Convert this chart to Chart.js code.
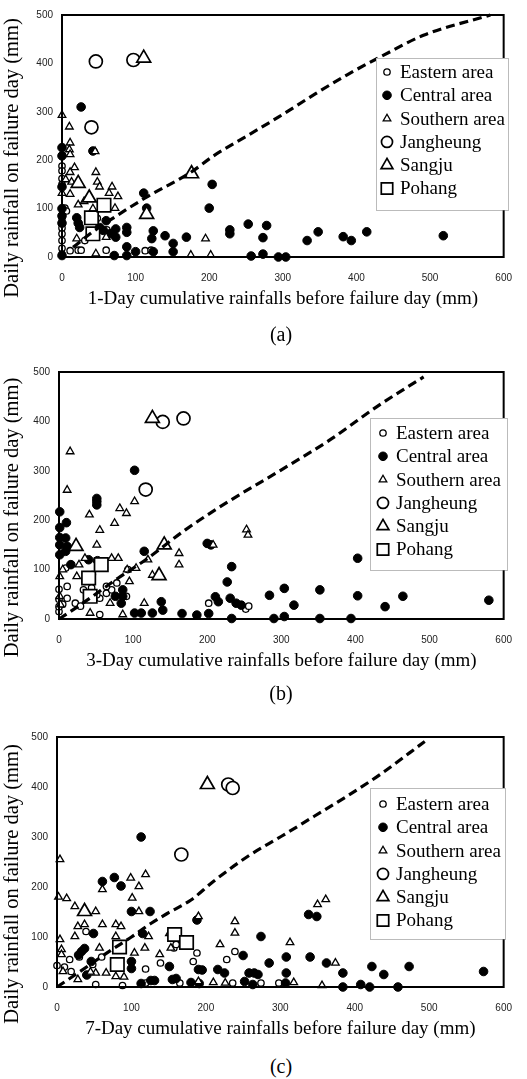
<!DOCTYPE html>
<html>
<head>
<meta charset="utf-8">
<script src="https://cdn.jsdelivr.net/npm/chart.js"></script>
<style>
  html, body { margin: 0; padding: 0; background: #fff; }
  body { width: 527px; height: 1079px; position: relative; overflow: hidden; }
  .panel { position: absolute; left: 0; width: 527px; }
  .panel canvas { display: block; }
  .caption { position: absolute; left: 251px; width: 60px; height: 24px; line-height: 24px;
             text-align: center; font: 20px "Liberation Serif", "Times New Roman", serif; color: #000; }
</style>
</head>
<body>
<div class="panel" style="top:0px"><canvas id="chartA" width="527" height="330"></canvas></div>
<div class="panel" style="top:355px"><canvas id="chartB" width="527" height="330"></canvas></div>
<div class="panel" style="top:720px"><canvas id="chartC" width="527" height="330"></canvas></div>
<div class="caption" style="top:323px">(a)</div>
<div class="caption" style="top:682px">(b)</div>
<div class="caption" style="top:1055px">(c)</div>

<script>
const seriesNames = ["Eastern area", "Central area", "Southern area", "Jangheung", "Sangju", "Pohang"];
const yTitle = "Daily rainfall on failure day (mm)";
const xTitles = [
  "1-Day cumulative rainfalls before failure day (mm)",
  "3-Day cumulative rainfalls before failure day (mm)",
  "7-Day cumulative rainfalls before failure day (mm)",
];
const xTicks = [0, 100, 200, 300, 400, 500, 600];
const yTicks = [0, 100, 200, 300, 400, 500];

// (a) 1-day cumulative rainfall vs daily rainfall, [x, y] in mm
const eastern1 = [[0,188],[0,178],[0,162],[0,150],[4,101],[6,95],[0,80],[0,70],[0,60],[0,48],[0,34],[0,18],[0,6],
  [11,13],[22,14],[26,14],[31,34],[60,14],[61,56],[113,13],[121,14],[48,80]];
const central1 = [[26,310],[0,226],[0,209],[0,145],[42,219],[204,150],[200,101],[111,132],[115,101],[0,100],[0,85],
  [0,70],[20,81],[24,61],[22,70],[51,61],[60,75],[56,55],[73,58],[88,61],[88,51],[73,41],[124,54],[122,38],[140,44],
  [151,28],[169,41],[228,56],[228,48],[253,68],[278,65],[273,40],[333,34],[348,52],[382,42],[393,34],[414,52],[518,44],
  [0,3],[71,3],[88,3],[100,11],[88,21],[124,11],[151,11],[257,2],[273,6],[294,0],[304,0],[40,50],[65,48]];
const southern1 = [[0,293],[10,269],[11,236],[10,222],[11,212],[17,185],[11,175],[13,155],[0,132],[11,130],[46,175],
  [48,155],[51,145],[64,132],[68,145],[76,125],[72,101],[22,108],[60,41],[20,38],[46,7],[175,4],[202,4],[195,38],
  [45,218],[30,115],[42,100],[5,160]];
const jangheung1 = [[46,404],[97,407],[40,268]];
const sangju1 = [[111,411],[22,152],[115,88],[176,172],[37,122]];
const pohang1 = [[40,81],[57,107],[42,48]];
const threshold1 = [[15,20],[40,50],[64,75],[113,122],[175,175],[206,209],[251,250],[295,290],[344,337],[388,377],
  [437,417],[491,458],[582,500]];

// (b) 3-day cumulative rainfall
const eastern3 = [[0,15],[0,25],[0,40],[0,60],[9,103],[11,66],[11,42],[22,32],[29,26],[35,76],[33,59],[44,63],[55,42],
  [64,52],[71,59],[64,66],[51,49],[55,9],[91,46],[93,100],[78,73],[202,32],[252,20],[256,26],[5,30],[45,90]];
const central3 = [[1,217],[1,185],[1,165],[1,150],[1,130],[10,195],[9,164],[11,147],[9,137],[51,244],[51,238],[51,231],
  [102,301],[115,137],[16,110],[40,120],[52,118],[86,59],[86,46],[84,32],[76,46],[138,35],[140,18],[102,12],[111,12],
  [126,12],[166,11],[186,8],[202,11],[200,153],[205,150],[233,106],[227,75],[211,45],[215,35],[231,42],[239,32],
  [246,28],[233,1],[284,48],[304,62],[317,28],[304,5],[290,1],[352,59],[352,1],[394,1],[403,123],[403,47],[440,25],
  [464,46],[580,38]];
const southern3 = [[15,339],[11,261],[41,211],[55,180],[51,150],[75,194],[82,224],[91,214],[102,238],[162,133],[162,110],
  [208,150],[253,181],[255,170],[1,86],[1,46],[27,110],[24,86],[35,123],[71,123],[80,123],[69,32],[95,76],[104,103],
  [120,120],[115,32],[42,12],[86,9],[2,29],[5,100],[60,110],[92,100],[126,89]];
const jangheung3 = [[140,399],[168,406],[117,262]];
const sangju3 = [[126,406],[23,147],[142,150],[135,88]];
const pohang3 = [[40,83],[57,110],[42,46]];
const threshold3 = [[0,0],[32,32],[80,83],[117,120],[170,180],[232,241],[299,301],[365,362],[432,433],[492,490]];

// (c) 7-day cumulative rainfall
const eastern7 = [[0,43],[17,55],[19,31],[39,111],[48,45],[52,5],[88,3],[119,36],[119,8],[139,48],[157,78],[165,8],
  [183,51],[188,68],[228,55],[239,71],[236,8],[274,8],[298,8],[10,40],[30,60],[60,60],[100,50],[160,85]];
const central7 = [[113,300],[61,211],[77,219],[86,202],[100,151],[125,151],[49,107],[115,107],[37,77],[29,64],[33,71],
  [46,51],[40,24],[100,51],[100,37],[151,41],[155,15],[188,134],[195,34],[190,35],[113,7],[126,13],[131,13],[160,17],
  [180,9],[191,7],[216,35],[225,28],[250,63],[258,28],[265,28],[270,25],[263,5],[252,11],[274,101],[285,48],[308,60],
  [308,28],[307,8],[338,145],[349,141],[340,60],[362,48],[384,28],[384,0],[408,5],[420,0],[423,41],[439,25],[458,0],
  [473,41],[573,31]];
const southern7 = [[4,255],[2,180],[13,177],[24,161],[52,151],[61,195],[99,218],[101,178],[110,201],[119,225],[110,151],
  [28,121],[37,125],[61,125],[79,125],[86,121],[24,101],[4,95],[6,75],[6,65],[8,31],[57,78],[52,28],[66,28],[79,21],
  [28,15],[79,101],[104,68],[123,101],[118,78],[138,65],[151,107],[153,78],[190,141],[190,11],[210,9],[219,85],
  [239,131],[239,108],[226,8],[313,89],[318,9],[350,165],[361,175],[374,48],[356,3],[45,30],[90,20]];
const jangheung7 = [[230,405],[236,398],[167,265]];
const sangju7 = [[202,405],[37,151]];
const pohang7 = [[81,45],[84,80],[158,105],[174,89]];
const threshold7 = [[0,0],[7,7],[24,24],[73,74],[100,100],[126,127],[148,147],[180,174],[210,211],[256,261],[301,301],
  [345,341],[389,381],[434,425],[494,491]];

// marker look for each series, same order as seriesNames
const markerStyles = [
  { pointStyle: "circle", pointRadius: 3.2, borderWidth: 1.3, backgroundColor: "#fff" },
  { pointStyle: "circle", pointRadius: 4.3, borderWidth: 1, backgroundColor: "#000" },
  { pointStyle: "triangle", pointRadius: 4.4, borderWidth: 1.3, backgroundColor: "#fff" },
  { pointStyle: "circle", pointRadius: 6.5, borderWidth: 1.7, backgroundColor: "#fff" },
  { pointStyle: "triangle", pointRadius: 8, borderWidth: 1.7, backgroundColor: "#fff" },
  { pointStyle: "rect", pointRadius: 9.5, borderWidth: 1.7, backgroundColor: "#fff" },
];

const SERIF = '"Liberation Serif", "Times New Roman", serif';
const SANS = '"Liberation Sans", Arial, sans-serif';

// page geometry of each panel (pixels on the page)
const panels = [
  { id: "chartA", top: 0, height: 330, plot: { left: 62, right: 512, top: 9, bottom: 257 },
    legend: { left: 376, top: 58, width: 132, height: 152, mark: 11, text: 24, first: 14 },
    series: [eastern1, central1, southern1, jangheung1, sangju1, pohang1], line: threshold1, xTitle: xTitles[0] },
  { id: "chartB", top: 355, height: 330, plot: { left: 59, right: 510, top: 372, bottom: 619 },
    legend: { left: 370, top: 418, width: 137, height: 152, mark: 13, text: 26, first: 15 },
    series: [eastern3, central3, southern3, jangheung3, sangju3, pohang3], line: threshold3, xTitle: xTitles[1] },
  { id: "chartC", top: 720, height: 330, plot: { left: 57, right: 508, top: 737, bottom: 987 },
    legend: { left: 370, top: 788, width: 135, height: 151, mark: 13, text: 26, first: 16 },
    series: [eastern7, central7, southern7, jangheung7, sangju7, pohang7], line: threshold7, xTitle: xTitles[2] },
];

const toPoints = (arr) => arr.map(([x, y]) => ({ x: x, y: y }));

function drawMarker(ctx, style, x, y) {
  const r = style.pointRadius;
  ctx.beginPath();
  if (style.pointStyle === "circle") {
    ctx.arc(x, y, r, 0, Math.PI * 2);
  } else if (style.pointStyle === "triangle") {
    for (let k = 0; k < 3; k++) {
      const a = k * 2 * Math.PI / 3;
      const px = x + Math.sin(a) * r;
      const py = y - Math.cos(a) * r;
      if (k === 0) ctx.moveTo(px, py); else ctx.lineTo(px, py);
    }
    ctx.closePath();
  } else {
    const s = r * Math.SQRT1_2;
    ctx.rect(x - s, y - s, 2 * s, 2 * s);
  }
  ctx.fillStyle = style.backgroundColor;
  ctx.fill();
  ctx.lineWidth = style.borderWidth;
  ctx.strokeStyle = "#000";
  ctx.stroke();
}

const framePlugin = {
  id: "frame",
  afterDraw(chart, args, opts) {
    const ctx = chart.ctx;
    const area = chart.chartArea;
    const p = opts.panel;
    ctx.save();
    // plot box
    ctx.lineWidth = 2;
    ctx.strokeStyle = "#000";
    ctx.strokeRect(area.left, area.top, area.right - area.left, area.bottom - area.top);

    // legend box
    const lg = p.legend;
    const bx = lg.left, by = lg.top - p.top;
    ctx.fillStyle = "#fff";
    ctx.fillRect(bx, by, lg.width, lg.height);
    ctx.setLineDash([1, 1]);
    ctx.lineWidth = 1;
    ctx.strokeStyle = "#777";
    ctx.strokeRect(bx + 0.5, by + 0.5, lg.width, lg.height);
    ctx.setLineDash([]);
    ctx.font = "19px " + SERIF;
    ctx.textAlign = "left";
    ctx.textBaseline = "middle";
    seriesNames.forEach((name, i) => {
      const cy = by + lg.first + i * 23.3;
      const st = Object.assign({}, markerStyles[i]);
      if (i >= 3) st.pointRadius = st.pointRadius * 0.85;
      drawMarker(ctx, st, bx + lg.mark, cy);
      ctx.fillStyle = "#000";
      ctx.fillText(name, bx + lg.text, cy + 1);
    });

    // axis titles
    ctx.fillStyle = "#000";
    ctx.font = "19px " + SERIF;
    ctx.textAlign = "center";
    ctx.textBaseline = "middle";
    ctx.fillText(p.xTitle, (area.left + area.right) / 2, area.bottom + 42);
    ctx.save();
    ctx.translate(13, (area.top + area.bottom) / 2 + 22);
    ctx.rotate(-Math.PI / 2);
    ctx.font = "20.5px " + SERIF;
    ctx.fillText(yTitle, 0, 0);
    ctx.restore();
    ctx.restore();
  },
};

panels.forEach((p) => {
  const datasets = p.series.map((pts, i) => Object.assign({
    type: "scatter",
    label: seriesNames[i],
    data: toPoints(pts),
    borderColor: "#000",
    pointHoverRadius: markerStyles[i].pointRadius,
    clip: false,
    order: 6 - i,
  }, markerStyles[i]));
  datasets.push({
    type: "line",
    label: "threshold",
    data: toPoints(p.line),
    borderColor: "#000",
    borderWidth: 3.2,
    borderDash: [9, 5],
    borderCapStyle: "butt",
    pointRadius: 0,
    fill: false,
    tension: 0.4,
    cubicInterpolationMode: "monotone",
    clip: false,
    order: 0,
  });

  const plotTop = p.plot.top - p.top;
  const plotBottom = p.plot.bottom - p.top;

  new Chart(document.getElementById(p.id), {
    type: "scatter",
    data: { datasets: datasets },
    options: {
      responsive: false,
      animation: false,
      events: [],
      layout: {
        autoPadding: false,
        padding: { top: plotTop, right: 527 - p.plot.right, bottom: 0, left: 0 },
      },
      plugins: {
        legend: { display: false },
        tooltip: { enabled: false },
        frame: { panel: p },
      },
      scales: {
        x: {
          type: "linear",
          min: xTicks[0],
          max: xTicks[xTicks.length - 1],
          grid: { display: false, drawTicks: false },
          border: { display: false },
          ticks: { stepSize: xTicks[1] - xTicks[0], padding: 15, color: "#222", font: { family: SANS, size: 10 } },
          afterFit: (scale) => { scale.height = p.height - plotBottom; },
        },
        y: {
          type: "linear",
          min: yTicks[0],
          max: yTicks[yTicks.length - 1],
          grid: { display: false, drawTicks: false },
          border: { display: false },
          ticks: { stepSize: yTicks[1] - yTicks[0], padding: 9, color: "#222", font: { family: SANS, size: 10 } },
          afterFit: (scale) => { scale.width = p.plot.left; },
        },
      },
    },
    plugins: [framePlugin],
  });
});
</script>
</body>
</html>
